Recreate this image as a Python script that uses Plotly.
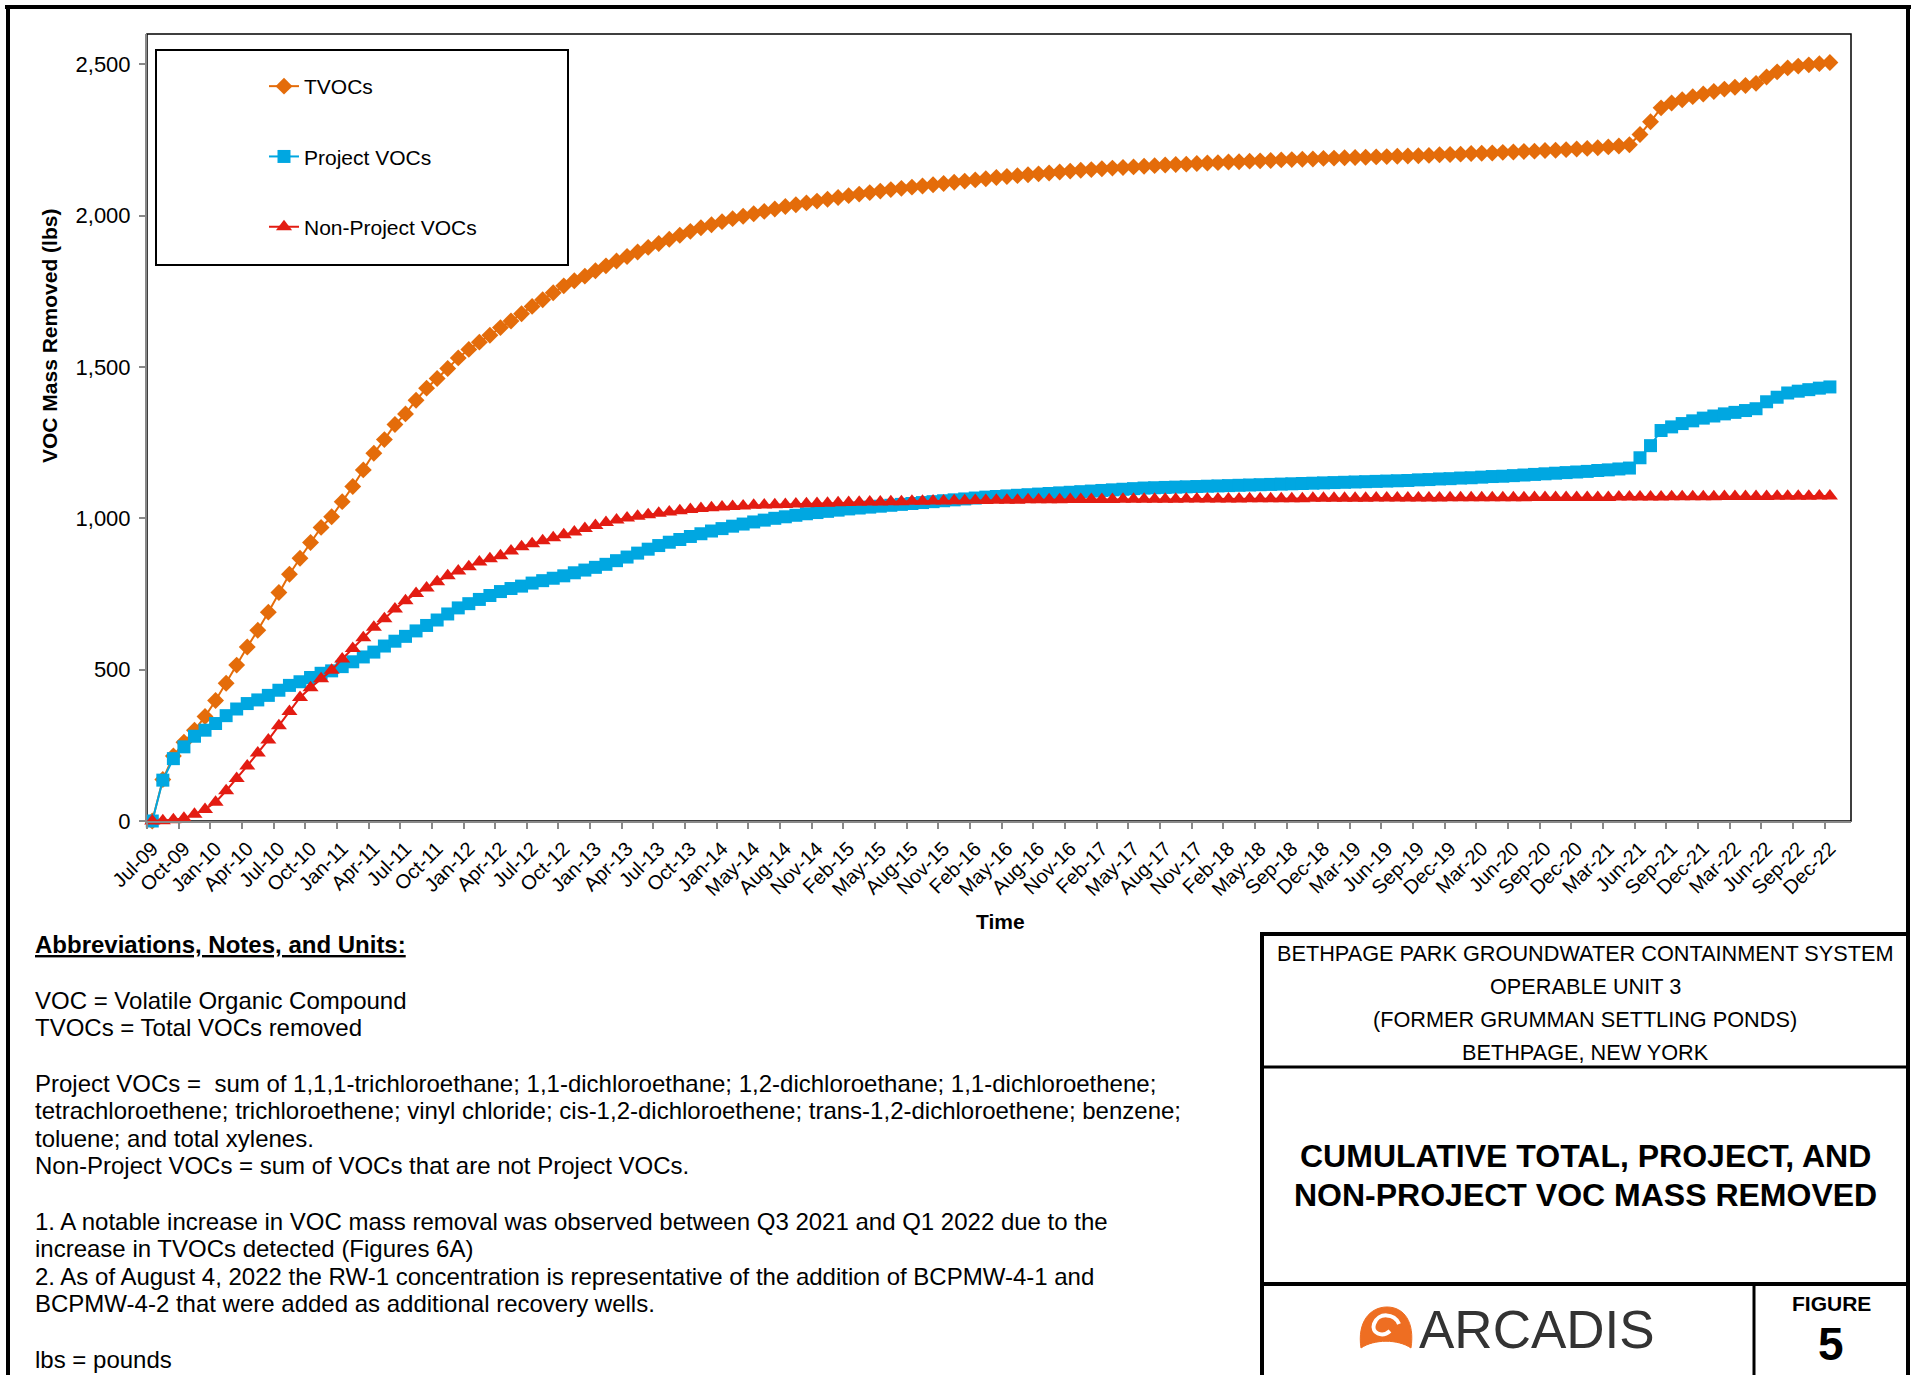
import plotly.graph_objects as go

# ---------------------------------------------------------------- data
# Quarterly-ish tick labels (one label every third sampling event)
tick_labels = [
    "Jul-09", "Oct-09",
    "Jan-10", "Apr-10", "Jul-10", "Oct-10",
    "Jan-11", "Apr-11", "Jul-11", "Oct-11",
    "Jan-12", "Apr-12", "Jul-12", "Oct-12",
    "Jan-13", "Apr-13", "Jul-13", "Oct-13",
    "Jan-14", "May-14", "Aug-14", "Nov-14",
    "Feb-15", "May-15", "Aug-15", "Nov-15",
    "Feb-16", "May-16", "Aug-16", "Nov-16",
    "Feb-17", "May-17", "Aug-17", "Nov-17",
    "Feb-18", "May-18", "Sep-18", "Dec-18",
    "Mar-19", "Jun-19", "Sep-19", "Dec-19",
    "Mar-20", "Jun-20", "Sep-20", "Dec-20",
    "Mar-21", "Jun-21", "Sep-21", "Dec-21",
    "Mar-22", "Jun-22", "Sep-22", "Dec-22",
]

# Cumulative mass removed (lbs), one value per sampling event
tvocs = [
    0, 137, 215, 260, 300, 345, 398, 455, 515, 575,
    630, 690, 755, 815, 868, 920, 970, 1005, 1055, 1105,
    1160, 1215, 1260, 1310, 1345, 1390, 1430, 1462, 1495, 1530,
    1558, 1582, 1605, 1630, 1652, 1676, 1700, 1722, 1745, 1768,
    1785, 1800, 1818, 1834, 1850, 1865, 1880, 1895, 1908, 1922,
    1935, 1948, 1960, 1970, 1980, 1990, 1998, 2006, 2014, 2022,
    2030, 2036, 2042, 2048, 2054, 2060, 2066, 2071, 2076, 2081,
    2086, 2090, 2094, 2098, 2102, 2106, 2110, 2114, 2118, 2122,
    2126, 2129, 2132, 2135, 2138, 2141, 2144, 2147, 2150, 2152,
    2155, 2157, 2159, 2161, 2163, 2165, 2167, 2169, 2170, 2172,
    2174, 2175, 2177, 2178, 2180, 2181, 2182, 2184, 2185, 2186,
    2187, 2189, 2190, 2191, 2192, 2193, 2194, 2195, 2196, 2197,
    2198, 2199, 2201, 2202, 2203, 2205, 2206, 2207, 2209, 2210,
    2212, 2213, 2215, 2216, 2218, 2220, 2222, 2224, 2227, 2230,
    2234, 2268, 2310, 2356, 2372, 2383, 2393, 2402, 2410, 2418,
    2424, 2430, 2437, 2458, 2475, 2488, 2494, 2498, 2502, 2506,
]

project_vocs = [
    0, 135, 206, 245, 280, 300, 322, 348, 370, 388,
    400, 415, 432, 448, 460, 474, 488, 496, 510, 526,
    542, 558, 578, 594, 610, 628, 646, 664, 684, 704,
    718, 732, 745, 758, 768, 776, 786, 794, 802, 810,
    820, 829, 838, 848, 860, 872, 885, 898, 910, 921,
    930, 940, 949, 958, 966, 974, 981, 988, 994, 1000,
    1005, 1010, 1015, 1019, 1023, 1027, 1031, 1034, 1037, 1040,
    1043, 1046, 1049, 1052, 1055, 1058, 1061, 1064, 1067, 1070,
    1072, 1074, 1076, 1078, 1080, 1082, 1084, 1086, 1088, 1090,
    1092, 1094, 1096, 1098, 1100, 1101, 1102, 1103, 1104, 1105,
    1106, 1107, 1108, 1109, 1110, 1111, 1112, 1113, 1114, 1115,
    1116, 1117, 1118, 1119, 1120, 1121, 1122, 1123, 1124, 1125,
    1127, 1128, 1130, 1131, 1133, 1134, 1136, 1138, 1139, 1141,
    1143, 1145, 1147, 1149, 1151, 1153, 1155, 1158, 1160, 1163,
    1166, 1200, 1240, 1290, 1302, 1313, 1322, 1331, 1338, 1345,
    1350, 1356, 1362, 1385, 1400, 1414, 1420, 1425, 1430, 1434,
]

non_project_vocs = [
    0, 1, 4, 9, 22, 38, 62, 100, 140, 182,
    225, 268, 315, 362, 408, 440, 470, 498, 535, 570,
    605, 640, 668, 700, 728, 752, 770, 790, 810, 826,
    840, 856, 866, 876, 892, 906, 916, 926, 936, 946,
    955, 966, 976, 986, 994, 1001, 1007, 1012, 1017, 1021,
    1025, 1029, 1032, 1035, 1037, 1039, 1041, 1043, 1044, 1045,
    1046, 1047, 1048, 1049, 1050, 1051, 1052, 1053, 1054, 1054,
    1055, 1055, 1056, 1056, 1057, 1057, 1058, 1058, 1059, 1059,
    1060, 1060, 1060, 1061, 1061, 1061, 1061, 1062, 1062, 1062,
    1062, 1062, 1063, 1063, 1063, 1063, 1063, 1063, 1064, 1064,
    1064, 1064, 1064, 1064, 1065, 1065, 1065, 1065, 1065, 1065,
    1066, 1066, 1066, 1066, 1066, 1066, 1067, 1067, 1067, 1067,
    1067, 1067, 1067, 1068, 1068, 1068, 1068, 1068, 1068, 1068,
    1068, 1069, 1069, 1069, 1069, 1069, 1069, 1069, 1069, 1070,
    1070, 1070, 1070, 1070, 1071, 1071, 1071, 1071, 1071, 1072,
    1072, 1072, 1072, 1072, 1073, 1073, 1073, 1073, 1074, 1074,
]

y_ticks = [0, 500, 1000, 1500, 2000, 2500]

# ---------------------------------------------------------------- text
notes_heading = "Abbreviations, Notes, and Units:"
notes_lines = [
    None,
    "VOC = Volatile Organic Compound",
    "TVOCs = Total VOCs removed",
    None,
    "Project VOCs = \u00a0sum of 1,1,1-trichloroethane; 1,1-dichloroethane; 1,2-dichloroethane; 1,1-dichloroethene;",
    "tetrachloroethene; trichloroethene; vinyl chloride; cis-1,2-dichloroethene; trans-1,2-dichloroethene; benzene;",
    "toluene; and total xylenes.",
    "Non-Project VOCs = sum of VOCs that are not Project VOCs.",
    None,
    "1. A notable increase in VOC mass removal was observed between Q3 2021 and Q1 2022 due to the",
    "increase in TVOCs detected (Figures 6A)",
    "2. As of August 4, 2022 the RW-1 concentration is representative of the addition of BCPMW-4-1 and",
    "BCPMW-4-2 that were added as additional recovery wells.",
    None,
    "lbs = pounds",
]
site_lines = [
    "BETHPAGE PARK GROUNDWATER CONTAINMENT SYSTEM",
    "OPERABLE UNIT 3",
    "(FORMER GRUMMAN SETTLING PONDS)",
    "BETHPAGE, NEW YORK",
]
figure_title = ["CUMULATIVE TOTAL, PROJECT, AND", "NON-PROJECT VOC MASS REMOVED"]

# ---------------------------------------------------------------- layout helpers
W, H = 1916, 1375
PL, PR, PT, PB = 147, 1851, 34, 821          # plot-area edges in page pixels
FONT = "Liberation Sans, Arial, sans-serif"
AXIS_GRAY = "#898989"


def fx(x):
    return (x - PL) / (PR - PL)


def fy(y):
    return (PB - y) / (PB - PT)


def pt(x, y):
    return f"{fx(x):.5f},{fy(y):.5f}"


sample_index = list(range(len(tvocs)))
label_index = sample_index[::3]

fig = go.Figure()

series = [
    ("TVOCs", tvocs, "#E46C0A", "diamond", 13),
    ("Project VOCs", project_vocs, "#00A7E1", "square", 13),
    ("Non-Project VOCs", non_project_vocs, "#E31C12", "triangle-up", 14),
]
for name, values, color, symbol, size in series:
    fig.add_trace(go.Scatter(
        x=sample_index, y=values, name=name, legendgroup=name,
        mode="lines+markers",
        line=dict(color=color, width=2),
        marker=dict(symbol=symbol, size=size, color=color, line=dict(width=0)),
        cliponaxis=False,
    ))

shapes = []


def hline(x0, x1, y, w, color="black"):
    shapes.append(dict(type="line", xref="paper", yref="paper",
                       x0=fx(x0), x1=fx(x1), y0=fy(y), y1=fy(y),
                       line=dict(color=color, width=w)))


def vline(x, y0, y1, w, color="black"):
    shapes.append(dict(type="line", xref="paper", yref="paper",
                       x0=fx(x), x1=fx(x), y0=fy(y0), y1=fy(y1),
                       line=dict(color=color, width=w)))


# plot-area frame
shapes.append(dict(type="rect", xref="paper", yref="paper", x0=0, x1=1, y0=0, y1=1,
                   line=dict(color="black", width=1.5), layer="below"))
# legend frame
shapes.append(dict(type="rect", xref="paper", yref="paper",
                   x0=fx(156), x1=fx(568), y0=fy(265), y1=fy(50),
                   line=dict(color="black", width=2)))
# page border
hline(5, 1911, 7, 4)
vline(8, 5, H + 5, 4)
vline(1908, 5, H + 5, 4)
# title block
hline(1260, 1910, 934, 4)
vline(1262, 932, H + 5, 4)
hline(1262, 1908, 1067, 3)
hline(1262, 1908, 1284, 4)
vline(1754, 1284, H + 5, 3)

# logo mark
shapes.append(dict(
    type="path", xref="paper", yref="paper",
    path=(f"M{pt(1361, 1348)} C{pt(1357, 1322)} {pt(1370, 1307)} {pt(1387, 1307)} "
          f"C{pt(1404, 1307)} {pt(1415, 1322)} {pt(1411, 1348)} "
          f"C{pt(1398, 1339)} {pt(1374, 1339)} {pt(1361, 1348)} Z"),
    fillcolor="#EE6E22", line=dict(color="#EE6E22", width=1)))
shapes.append(dict(
    type="path", xref="paper", yref="paper",
    path=(f"M{pt(1399, 1324)} C{pt(1395, 1313)} {pt(1378, 1312)} {pt(1374, 1324)} "
          f"C{pt(1371, 1333)} {pt(1382, 1338)} {pt(1390, 1331)}"),
    line=dict(color="white", width=4)))

annotations = []


def text(x, y, s, size, bold=False, xanchor="left", color="black", angle=0):
    if bold:
        s = f"<b>{s}</b>"
    annotations.append(dict(
        xref="paper", yref="paper", x=fx(x), y=fy(y), text=s, showarrow=False,
        xanchor=xanchor, yanchor="middle", textangle=angle,
        font=dict(family=FONT, size=size, color=color)))


# axis titles
text(49, 336, "VOC Mass Removed (lbs)", 21, bold=True, xanchor="center", angle=-90)
text(1000, 921, "Time", 21, bold=True, xanchor="center")

# notes block
text(33, 945, f"<u>{notes_heading}</u>", 24, bold=True)
for k, line in enumerate(notes_lines, start=1):
    if line:
        text(33, 945 + 27.6 * k, line, 24)

# title block
for k, line in enumerate(site_lines):
    text(1585, 953 + 33.3 * k, line, 21.7, xanchor="center")
for k, line in enumerate(figure_title):
    text(1585, 1156 + 39 * k, line, 32, bold=True, xanchor="center")
text(1537, 1329, "ARCADIS", 53, xanchor="center", color="#333333")
text(1831, 1303, "FIGURE", 21, bold=True, xanchor="center")
text(1831, 1344, "5", 46, bold=True, xanchor="center")

fig.update_layout(
    width=W, height=H, autosize=False,
    margin=dict(l=PL, r=W - PR, t=PT, b=H - PB, pad=0),
    paper_bgcolor="white", plot_bgcolor="white",
    font=dict(family=FONT, color="black"),
    showlegend=True,
    legend=dict(
        x=fx(264), y=fy(66), xanchor="left", yanchor="top",
        bgcolor="rgba(0,0,0,0)", borderwidth=0,
        font=dict(family=FONT, size=21, color="black"),
        traceorder="grouped", tracegroupgap=40,
    ),
    xaxis=dict(
        range=[-0.5, 161.0], showgrid=False, zeroline=False,
        showline=True, linecolor=AXIS_GRAY, linewidth=2,
        tickmode="array", tickvals=label_index, ticktext=tick_labels,
        tickangle=-45, ticks="outside", ticklen=6, tickcolor="rgba(0,0,0,0)",
        tickfont=dict(family=FONT, size=20, color="black"),
        minor=dict(tickmode="array", tickvals=[i - 0.5 for i in label_index],
                   ticks="outside", ticklen=6, tickwidth=1.5, tickcolor=AXIS_GRAY,
                   showgrid=False),
    ),
    yaxis=dict(
        range=[0, 2600], showgrid=False, zeroline=False,
        showline=True, linecolor=AXIS_GRAY, linewidth=2,
        tickmode="array", tickvals=y_ticks, tickformat=",",
        ticks="outside", ticklen=6, tickwidth=1.5, tickcolor=AXIS_GRAY,
        ticklabelstandoff=4,
        tickfont=dict(family=FONT, size=22, color="black"),
    ),
    shapes=shapes,
    annotations=annotations,
)

fig.write_html("out.html")
